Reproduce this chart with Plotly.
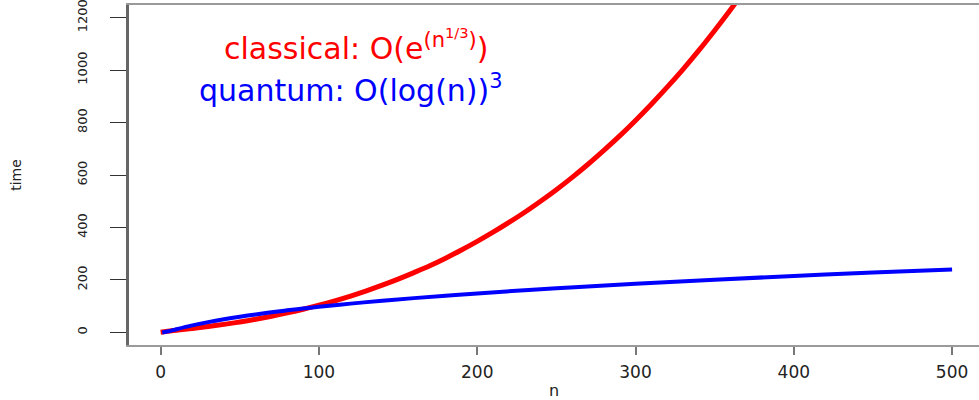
import plotly.graph_objects as go

# values
n_classical = [0, 10, 20, 30, 40, 50, 60, 70, 80, 90, 100, 110, 120, 130, 140, 150, 160,
               170, 180, 190, 200, 210, 220, 230, 240, 250, 260, 270, 280, 290, 300,
               310, 320, 330, 340, 350, 360, 370]
t_classical = [1, 8.6, 15.1, 22.4, 30.6, 39.8, 50.1, 61.6, 74.4, 88.3, 103.7, 120.5,
               138.7, 158.5, 179.9, 203, 228, 254, 283, 314, 347, 382, 419, 458, 500,
               544, 591, 641, 694, 749, 808, 870, 935, 1003, 1075, 1151, 1230, 1313]

n_quantum = [1, 5, 10, 20, 30, 40, 50, 60, 70, 80, 90, 100, 120, 140, 160, 180, 200,
             250, 300, 350, 400, 450, 500]
t_quantum = [0, 4.2, 12.2, 26.9, 39.3, 50.2, 59.9, 68.6, 76.7, 84.1, 91.1, 97.7, 109.7,
             120.7, 130.7, 140.0, 148.7, 168.3, 185.6, 201.0, 215.1, 228.0, 240.0]

x_ticks = [0, 100, 200, 300, 400, 500]
y_ticks = [0, 200, 400, 600, 800, 1000, 1200]

label_classical = "classical: O(e<sup>(n<sup>1/3</sup>)</sup>)"
label_quantum = "quantum: O(log(n))<sup>3</sup>"

FONT = "DejaVu Sans"

fig = go.Figure()
fig.add_trace(go.Scatter(x=n_classical, y=t_classical, mode="lines",
                         line=dict(color="#ff0000", width=5, shape="spline"),
                         showlegend=False))
fig.add_trace(go.Scatter(x=n_quantum, y=t_quantum, mode="lines",
                         line=dict(color="#0000ff", width=4, shape="spline"),
                         showlegend=False))

fig.add_annotation(x=124, y=1095, xref="x", yref="y", text=label_classical,
                   showarrow=False, font=dict(family=FONT, size=30, color="#ff0000"))
fig.add_annotation(x=120, y=930, xref="x", yref="y", text=label_quantum,
                   showarrow=False, font=dict(family=FONT, size=30, color="#0000ff"))

fig.update_layout(
    width=979, height=400,
    margin=dict(l=129, r=0, t=5, b=55),
    plot_bgcolor="white", paper_bgcolor="white",
    font=dict(family=FONT, color="#222222"),
    xaxis=dict(range=[-20, 517], tickvals=x_ticks, ticks="outside", ticklen=8,
               tickwidth=2, tickcolor="#777777", showline=True, mirror=True,
               linecolor="#9a9a9a", linewidth=2, showgrid=False, zeroline=False,
               tickfont=dict(size=17), ticklabelstandoff=3, automargin=False,
               ticklabeloverflow="allow",
               title=dict(text="n", font=dict(size=16), standoff=13)),
    yaxis=dict(range=[-48, 1248], tickvals=y_ticks, ticks="outside", ticklen=16,
               tickwidth=1, tickcolor="#333333", showline=True, mirror=False,
               linecolor="#666666", linewidth=3, showgrid=False, zeroline=False,
               tickangle=-90, tickfont=dict(size=13), ticklabelstandoff=18,
               automargin=False, ticklabeloverflow="allow",
               title=dict(text="time", font=dict(size=14), standoff=50)),
)

fig.write_html("out.html", config={"displayModeBar": False},
               post_script="document.body.style.margin='0px';")
